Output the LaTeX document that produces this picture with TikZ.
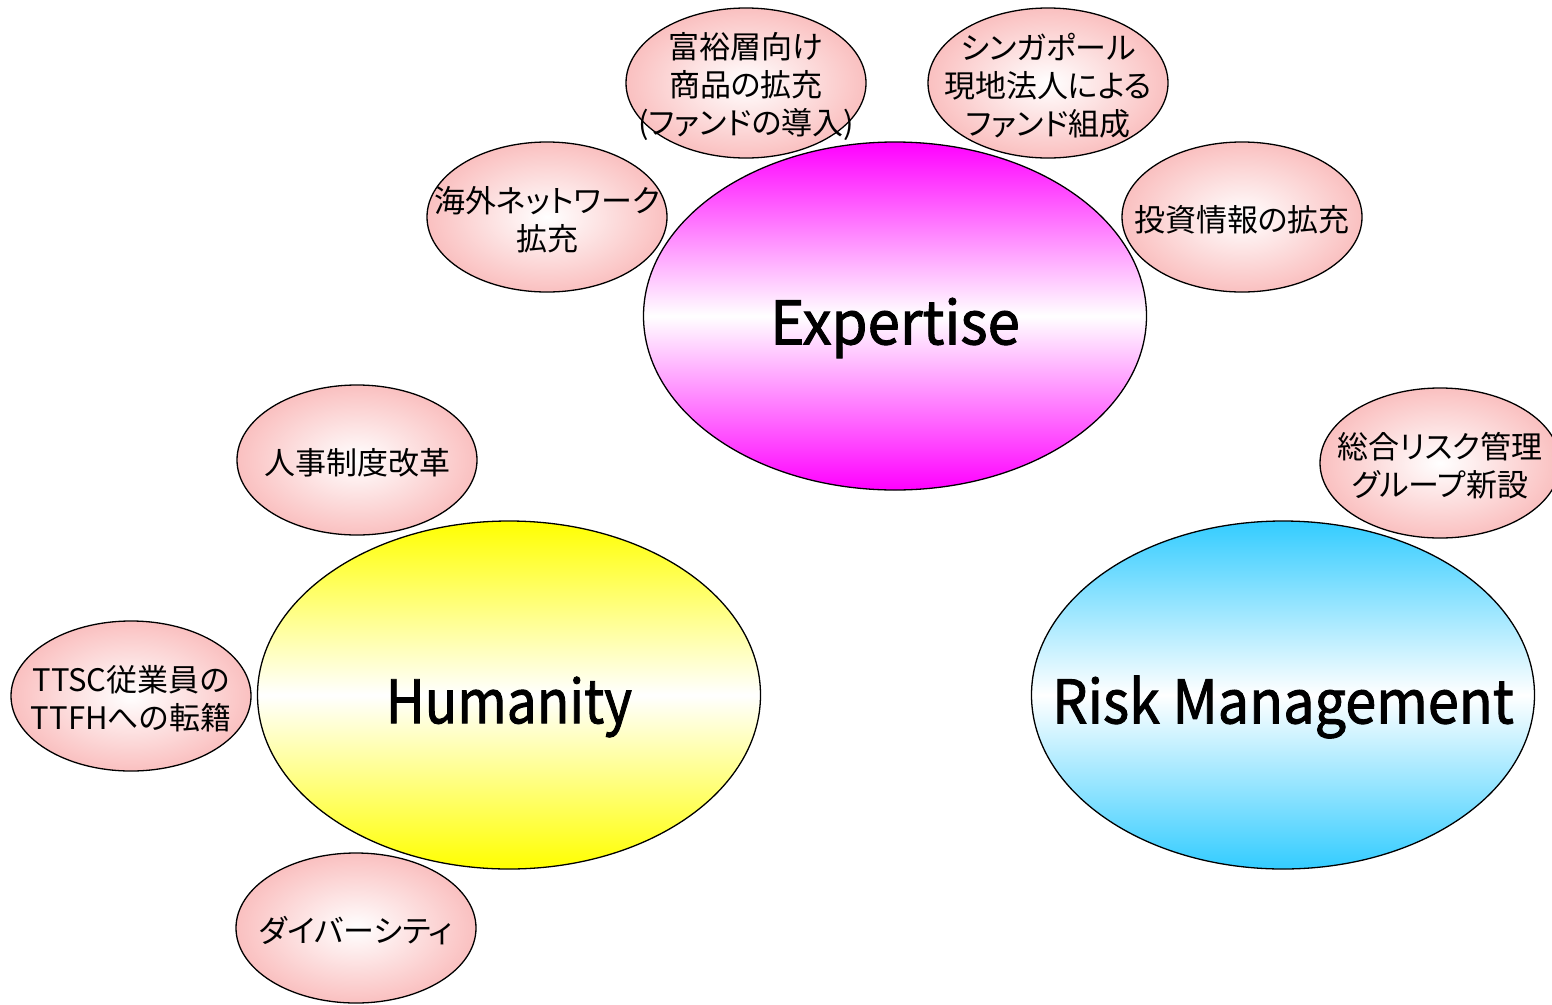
\documentclass[tikz,border=0pt]{standalone}
\usepackage{fontspec}
\setmainfont{Noto Sans CJK JP}[RawFeature=+palt]
\newfontfamily\bigfont{Noto Sans CJK JP}[FakeBold=1.6]
\usetikzlibrary{shapes.geometric}
\definecolor{pinkedge}{RGB}{250,192,192}
\definecolor{skyblue}{RGB}{51,204,255}
\tikzset{
 big/.style={ellipse, draw=black, line width=1.3pt, minimum width=503pt, minimum height=348pt, inner sep=0pt},
 small/.style={ellipse, draw=black, line width=1.3pt, minimum width=240pt, minimum height=150pt, inner sep=0pt, inner color=white, outer color=pinkedge},
 stext/.style={align=center, font=\fontsize{31}{38}\selectfont, inner sep=0pt, yshift=-3pt},
 btext/.style={font=\bigfont\fontsize{60}{70}\selectfont, inner sep=0pt, yshift=-12pt},
}
\begin{document}
\begin{tikzpicture}[x=1pt,y=-1pt]
\clip (0,0) rectangle (1552,1004);
\fill[white] (0,0) rectangle (1552,1004);
% big ellipses
\node[big, top color=magenta, bottom color=magenta, middle color=white] (exp) at (895,316) {};
\node[big, top color=yellow, bottom color=yellow, middle color=white] (hum) at (509,695) {};
\node[big, top color=skyblue, bottom color=skyblue, middle color=white] (risk) at (1283,695) {};
\node[btext] (expt) at (exp.center) {\scalebox{0.97}[1]{Expertise}};
\node[btext] (humt) at (hum.center) {\scalebox{0.89}[1]{Humanity}};
\node[btext] (riskt) at (risk.center) {\scalebox{0.93}[1]{Risk Management}};
% small ellipses
\node[small] (fuyu) at (746,83) {};
\node[small] (sing) at (1048,83) {};
\node[small] (kaigai) at (547,217) {};
\node[small] (toushi) at (1242,217) {};
\node[small] (sogo) at (1440,463) {};
\node[small] (jinji) at (357,460) {};
\node[small] (ttsc) at (131,696) {};
\node[small] (diver) at (356,928) {};
\node[stext] (fuyut) at (fuyu.center) {富裕層向け\\商品の拡充\\(ファンドの導入)};
\node[stext] (singt) at (sing.center) {シンガポール\\現地法人による\\ファンド組成};
\node[stext] (kaigait) at (kaigai.center) {海外ネットワーク\\拡充};
\node[stext] (toushit) at (toushi.center) {投資情報の拡充};
\node[stext] (sogot) at (sogo.center) {総合リスク管理\\グループ新設};
\node[stext] (jinjit) at (jinji.center) {人事制度改革};
\node[stext] (ttsct) at (ttsc.center) {TTSC従業員の\\TTFHへの転籍};
\node[stext] (divert) at (diver.center) {ダイバーシティ};
\end{tikzpicture}
\end{document}
